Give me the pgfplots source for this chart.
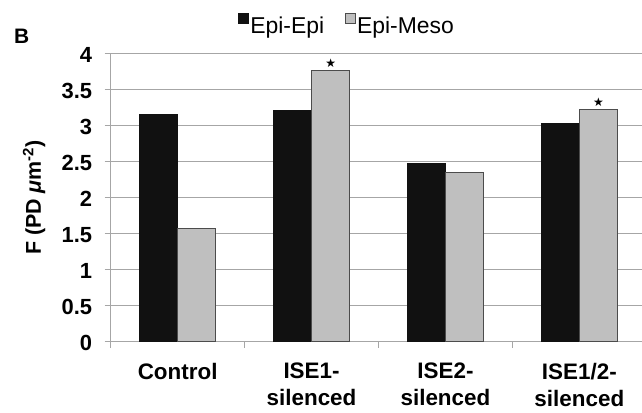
\documentclass[border=0pt]{standalone}
\usepackage{pgfplots}
\pgfplotsset{compat=1.18}
\usepackage{fontspec}
\setmainfont{Liberation Sans}
\newfontfamily\symfont{DejaVu Sans}
\definecolor{barblack}{HTML}{111111}
\definecolor{bargray}{HTML}{BFBFBF}
\definecolor{gridgray}{HTML}{A6A6A6}
\newcommand\mk[1]{\if s#1{\symfont\fontsize{12}{12}\selectfont ★}\fi}
\begin{document}
\begin{tikzpicture}[x=1bp,y=1bp]
\useasboundingbox (-110.7,-70.3) rectangle (531.3,341.7);
\node[font=\bfseries\fontsize{21}{21}\selectfont, anchor=base west, inner sep=0pt] at (-96.7,298.7) {B};
\begin{axis}[
  at={(0,0)}, anchor=south west,
  width=531.3bp, height=288.4bp, scale only axis,
  xmin=-0.5, xmax=3.468, ymin=0, ymax=4,
  ybar=0pt, bar width=0.285,
  axis x line*=bottom, axis y line*=left,
  axis line style={gridgray, line width=1.3bp, -},
  xtick={0,1,2,3},
  xticklabels={Control, ISE1-\\silenced, ISE2-\\silenced, ISE1/2-\\silenced},
  major x tick style={draw=none},
  minor xtick={-0.5,0.5,1.5,2.5},
  minor tick length=6bp,
  major tick length=6bp,
  tick align=outside,
  tick style={gridgray, line width=1bp},
  ytick={0,0.5,1,1.5,2,2.5,3,3.5,4},
  /pgf/number format/assume math mode=true,
  /pgf/number format/fixed,
  /pgf/number format/precision=1,
  ymajorgrids,
  grid style={gridgray, line width=1.3bp},
  xticklabel style={align=center, font=\bfseries\fontsize{22.5}{27}\selectfont, yshift=-12bp},
  yticklabel style={font=\bfseries\fontsize{22}{22}\selectfont, xshift=-9bp, yshift=-1.5bp},
  ylabel={F (PD \textit{μ}m\textsuperscript{-2})},
  ylabel style={at={(axis description cs:-0.144,0.5)}, anchor=center, font=\bfseries\fontsize{21.5}{21.5}\selectfont},
  legend columns=2,
  legend style={draw=none, fill=none, at={(0.444,1.097)}, anchor=center,
    font=\fontsize{23}{23}\selectfont,
    nodes={inner xsep=1.5bp},
    /tikz/every even column/.append style={column sep=19bp}},
  legend image code/.code={\draw[#1, line width=0.9bp] (0bp,2.5bp) rectangle (10bp,12.5bp);},
  point meta=explicit symbolic,
  nodes near coords={\mk{\pgfplotspointmeta}},
  nodes near coords style={anchor=south, inner sep=2bp},
]
\addplot[fill=barblack, draw=barblack, line width=1bp] coordinates {(0,3.15) [n] (1,3.20) [n] (2,2.47) [n] (3,3.03) [n]};
\addplot[fill=bargray, draw=black!70, line width=1.2bp] coordinates {(0,1.57) [n] (1,3.76) [s] (2,2.35) [n] (3,3.22) [s]};
\legend{Epi-Epi, Epi-Meso}
\end{axis}
\end{tikzpicture}
\end{document}
